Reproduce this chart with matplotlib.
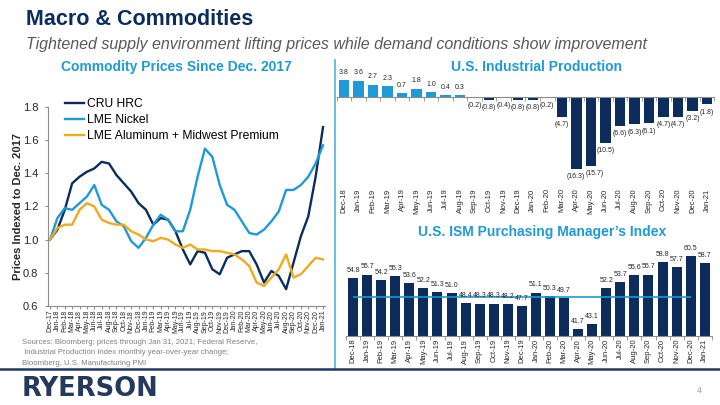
import numpy as np
import matplotlib
matplotlib.use('Agg')
import matplotlib.pyplot as plt
from matplotlib.lines import Line2D

plt.rcParams['font.family'] = ['Liberation Sans', 'DejaVu Sans']

NAVY = '#0c2c5c'
BLUE = '#1e9ad6'
GOLD = '#f0aa1e'
AXGRAY = '#8c8c8c'
TXT = '#262626'

# commodity prices, indexed to Dec-2017
price_months = ['Dec-17', 'Jan-18', 'Feb-18', 'Mar-18', 'Apr-18', 'May-18', 'Jun-18',
                'Jul-18', 'Aug-18', 'Sep-18', 'Oct-18', 'Nov-18', 'Dec-18', 'Jan-19',
                'Feb-19', 'Mar-19', 'Apr-19', 'May-19', 'Jun-19', 'Jul-19', 'Aug-19',
                'Sep-19', 'Oct-19', 'Nov-19', 'Dec-19', 'Jan-20', 'Feb-20', 'Mar-20',
                'Apr-20', 'May-20', 'Jun-20', 'Jul-20', 'Aug-20', 'Sep-20', 'Oct-20',
                'Nov-20', 'Dec-20', 'Jan-21']
cru_hrc = [1.00, 1.06, 1.18, 1.34, 1.38, 1.41, 1.43, 1.47, 1.46, 1.39, 1.34, 1.29, 1.22,
           1.18, 1.09, 1.13, 1.12, 1.05, 0.94, 0.85, 0.93, 0.92, 0.82, 0.79, 0.89,
           0.91, 0.93, 0.93, 0.85, 0.74, 0.81, 0.78, 0.70, 0.86, 1.02, 1.14, 1.38, 1.68]
lme_nickel = [1.00, 1.13, 1.19, 1.18, 1.22, 1.26, 1.33, 1.21, 1.18, 1.11, 1.08, 0.99, 0.95,
              1.01, 1.09, 1.15, 1.12, 1.05, 1.05, 1.18, 1.38, 1.55, 1.50, 1.33, 1.21,
              1.18, 1.11, 1.04, 1.03, 1.06, 1.11, 1.17, 1.30, 1.30, 1.33, 1.38, 1.46, 1.57]
lme_alu = [1.00, 1.07, 1.09, 1.09, 1.18, 1.22, 1.20, 1.12, 1.10, 1.09, 1.09, 1.05, 1.03,
           1.00, 0.99, 1.01, 1.00, 0.97, 0.95, 0.97, 0.94, 0.94, 0.93, 0.93, 0.92,
           0.91, 0.88, 0.84, 0.74, 0.72, 0.77, 0.82, 0.91, 0.77, 0.79, 0.84, 0.89, 0.88]
price_ticks = [0.6, 0.8, 1.0, 1.2, 1.4, 1.6, 1.8]

# US industrial production, yoy % change; ISM PMI
macro_months = ['Dec-18', 'Jan-19', 'Feb-19', 'Mar-19', 'Apr-19', 'May-19', 'Jun-19',
                'Jul-19', 'Aug-19', 'Sep-19', 'Oct-19', 'Nov-19', 'Dec-19', 'Jan-20',
                'Feb-20', 'Mar-20', 'Apr-20', 'May-20', 'Jun-20', 'Jul-20', 'Aug-20',
                'Sep-20', 'Oct-20', 'Nov-20', 'Dec-20', 'Jan-21']
ip_yoy = [3.8, 3.6, 2.7, 2.3, 0.7, 1.8, 1.0, 0.4, 0.3, -0.2, -0.8, -0.4, -0.8, -0.8,
          -0.2, -4.7, -16.3, -15.7, -10.5, -6.6, -6.3, -6.1, -4.7, -4.7, -3.2, -1.8]
ism_pmi = [54.8, 55.7, 54.2, 55.3, 53.6, 52.2, 51.3, 51.0, 48.4, 48.3, 48.3, 48.2, 47.7,
           51.1, 50.3, 49.7, 41.7, 43.1, 52.2, 53.7, 55.6, 55.7, 58.8, 57.7, 60.5, 58.7]
ism_threshold = 50

sources = ['Sources: Bloomberg; prices through Jan 31, 2021; Federal Reserve,',
           ' Industrial Production Index monthly year-over-year change;',
           'Bloomberg, U.S. Manufacturing PMI']

fig = plt.figure(figsize=(7.2, 4.05), dpi=100)

# header
fig.text(0.036, 0.951, 'Macro & Commodities', fontsize=15.5, fontweight='bold',
         color='#0b2d5b', va='center')
fig.text(0.036, 0.889, 'Tightened supply environment lifting prices while demand '
         'conditions show improvement', fontsize=11.5, style='italic',
         color='#595959', va='center')

# ---- left: commodity prices
ax = fig.add_axes([0.066, 0.2452, 0.3857, 0.4899])
x = np.arange(len(price_months))
ax.plot(x, cru_hrc, color=NAVY, lw=1.7, label='CRU HRC')
ax.plot(x, lme_nickel, color=BLUE, lw=1.7, label='LME Nickel')
ax.plot(x, lme_alu, color=GOLD, lw=1.7, label='LME Aluminum + Midwest Premium')
ax.set_xlim(-0.34, 37.3)
ax.set_ylim(0.6, 1.8)
ax.set_yticks(price_ticks)
ax.yaxis.set_major_formatter('{x:.1f}')
ax.set_xticks(x, price_months, rotation=90, fontsize=5)
for s in ['top', 'right']:
    ax.spines[s].set_visible(False)
for s in ['left', 'bottom']:
    ax.spines[s].set_color(AXGRAY)
ax.tick_params(axis='x', length=2, pad=1, color=AXGRAY, labelcolor=TXT)
ax.tick_params(axis='y', length=2.5, pad=4, color=AXGRAY, labelcolor=TXT, labelsize=8)
ax.set_ylabel('Prices Indexed to Dec. 2017', fontsize=8, fontweight='bold', color=TXT)
ax.yaxis.set_label_coords(-0.09, 0.5)
ax.legend(loc='upper left', bbox_to_anchor=(0.0903, 0.758), bbox_transform=fig.transFigure,
          frameon=False, fontsize=8.7, handlelength=1.6, handletextpad=0.2,
          labelspacing=0.32, borderpad=0, borderaxespad=0)
fig.text(0.2444, 0.8346, 'Commodity Prices Since Dec. 2017', fontsize=10,
         fontweight='bold', color=BLUE, ha='center', va='center')

# separator and footer rules
fig.add_artist(Line2D([0.4653, 0.4653], [0.852, 0.091], color='#5db7e2', lw=1.3))
fig.add_artist(Line2D([0, 1], [0.0901, 0.0901], color='#1f3864', lw=1.8))

xm = np.arange(len(macro_months))
edges = np.arange(len(macro_months) + 1) - 0.5

# ---- top right: industrial production
ax2 = fig.add_axes([0.4677, 0.538, 0.5243, 0.3012])
ip_colors = [BLUE if v >= 0 else NAVY for v in ip_yoy]
bars = ax2.bar(xm, ip_yoy, width=0.72, color=ip_colors)
ip_text = [f'{v:.1f}' if v >= 0 else f'({-v:.1f})' for v in ip_yoy]
ip_labels = ax2.bar_label(bars, labels=ip_text, padding=3, fontsize=5, color=TXT)
# the two deepest bars sit side by side: nudge the second label right, as on the slide
deepest = int(np.argmin(ip_yoy))
dx, dy = ip_labels[deepest + 1].xyann
ip_labels[deepest + 1].xyann = (dx + 3, dy)
ax2.set_xlim(-0.5, len(macro_months) - 0.5)
ax2.set_ylim(-20.5, 7.1)
for s in ['top', 'right', 'left']:
    ax2.spines[s].set_visible(False)
ax2.spines['bottom'].set_position(('data', 0))
ax2.spines['bottom'].set_color(AXGRAY)
ax2.set_yticks([])
ax2.set_xticks([])
ax2.set_xticks(edges, minor=True)
ax2.tick_params(axis='x', which='minor', length=3, color=AXGRAY)
sec = ax2.secondary_xaxis('bottom')
sec.set_xticks(xm, macro_months, rotation=90, fontsize=5.5, color=TXT)
sec.tick_params(length=0, pad=1)
sec.spines['bottom'].set_visible(False)
fig.text(0.7458, 0.8346, 'U.S. Industrial Production', fontsize=10,
         fontweight='bold', color=BLUE, ha='center', va='center')

# ---- bottom right: ISM PMI
ax3 = fig.add_axes([0.4806, 0.1704, 0.508, 0.2222])
bars3 = ax3.bar(xm, ism_pmi, width=0.71, color=NAVY)
ax3.bar_label(bars3, fmt='%.1f', padding=3, fontsize=5, color=TXT)
ax3.hlines(ism_threshold, 0, len(macro_months) - 2, color=BLUE, lw=1.2)
ax3.set_xlim(-0.5, len(macro_months) - 0.5)
ax3.set_ylim(40, 63)
for s in ['top', 'right', 'left']:
    ax3.spines[s].set_visible(False)
ax3.spines['bottom'].set_color(AXGRAY)
ax3.set_yticks([])
ax3.set_xticks(xm, macro_months, rotation=90, fontsize=5.5, color=TXT)
ax3.set_xticks(edges, minor=True)
ax3.tick_params(axis='x', which='major', length=0, pad=2)
ax3.tick_params(axis='x', which='minor', length=3, color=AXGRAY)
fig.text(0.7528, 0.4272, 'U.S. ISM Purchasing Manager\u2019s Index', fontsize=10,
         fontweight='bold', color=BLUE, ha='center', va='center')

# footer
for i, line in enumerate(sources):
    fig.text(0.030, 0.1531 - i * 0.0247, line, fontsize=5.6, color='#808080', va='center')
fig.text(0.030, 0.0407, 'RYERSON', fontsize=18.5, fontweight='bold', color='#24395c',
         va='center', family='DejaVu Sans')
fig.text(0.968, 0.0346, '4', fontsize=6.5, color='#a0a0a0', va='center')

fig.savefig('out.png', dpi=100)
